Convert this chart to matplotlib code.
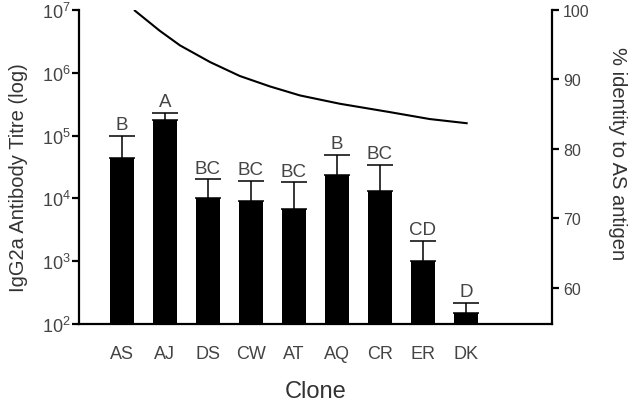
import matplotlib

matplotlib.use("Agg")
import matplotlib.pyplot as plt
import numpy as np

plt.rcParams["font.family"] = ["Liberation Sans", "DejaVu Sans"]
plt.rcParams["mathtext.fontset"] = "custom"
plt.rcParams["mathtext.rm"] = "Liberation Sans"

clones = ["AS", "AJ", "DS", "CW", "AT", "AQ", "CR", "ER", "DK"]
titre = [4.4e4, 1.8e5, 1.0e4, 9.2e3, 6.8e3, 2.4e4, 1.3e4, 1.0e3, 150]
titre_err_top = [1.0e5, 2.3e5, 2.0e4, 1.9e4, 1.8e4, 4.9e4, 3.4e4, 2.1e3, 215]
groups = ["B", "A", "BC", "BC", "BC", "B", "BC", "CD", "D"]

# identity curve, x in clone-position units
ident_x = [0.30, 0.88, 1.35, 2.05, 2.74, 3.44, 4.14, 5.07, 6.23, 7.16, 8.02]
ident_y = [99.9, 97.0, 94.9, 92.5, 90.5, 89.0, 87.7, 86.5, 85.3, 84.3, 83.7]

GREY = "#444444"

fig = plt.figure(figsize=(6.32, 4.06), dpi=100)
ax = fig.add_axes([0.125, 0.1995, 0.748, 0.7735])
x = np.arange(len(clones))
err = np.array(titre_err_top) - np.array(titre)

ax.bar(x, titre, width=0.56, color="black", bottom=1e-9, zorder=2)
ax.errorbar(x, titre, yerr=[np.zeros_like(err), err], fmt="none",
            ecolor="black", elinewidth=1.1, capsize=9.5, capthick=1.1, zorder=1)
for xi, top, g in zip(x, titre_err_top, groups):
    ax.annotate(g, (xi, top), xytext=(0, 2), textcoords="offset points",
                ha="center", va="bottom", fontsize=13.5, color=GREY)

ax.set_yscale("log")
ax.set_ylim(1e2, 1e7)
ax.set_xlim(-1, 10)
ax.minorticks_off()
ax.set_xticks(x)
ax.set_xticklabels(clones)
ax.tick_params(axis="x", length=0, pad=15, labelsize=13, labelcolor=GREY)
ax.tick_params(axis="y", direction="out", length=5, width=1.6,
               labelsize=13, labelcolor=GREY, pad=1)
for side in ("top", "right"):
    ax.spines[side].set_visible(False)
for side in ("left", "bottom"):
    ax.spines[side].set_linewidth(1.6)
ax.set_ylabel("IgG2a Antibody Titre (log)", fontsize=14.5, color="#333333")
ax.yaxis.set_label_coords(-0.108, 0.47)
ax.set_xlabel("Clone", fontsize=17, color="#333333", labelpad=13)

ax2 = ax.twinx()
ax2.plot(ident_x, ident_y, color="black", lw=1.5)
ax2.set_ylim(54.8, 100)
ax2.set_yticks([60, 70, 80, 90, 100])
ax2.tick_params(axis="y", direction="out", length=5, width=1.6,
                labelsize=11.5, labelcolor=GREY, pad=3)
for side in ("top", "left", "bottom"):
    ax2.spines[side].set_visible(False)
ax2.spines["right"].set_linewidth(1.6)
ax2.set_ylabel("% identity to AS antigen", fontsize=14.5, color="#333333",
               rotation=270, va="center")
ax2.yaxis.set_label_coords(1.14, 0.545)

fig.savefig("out.png", dpi=100)
